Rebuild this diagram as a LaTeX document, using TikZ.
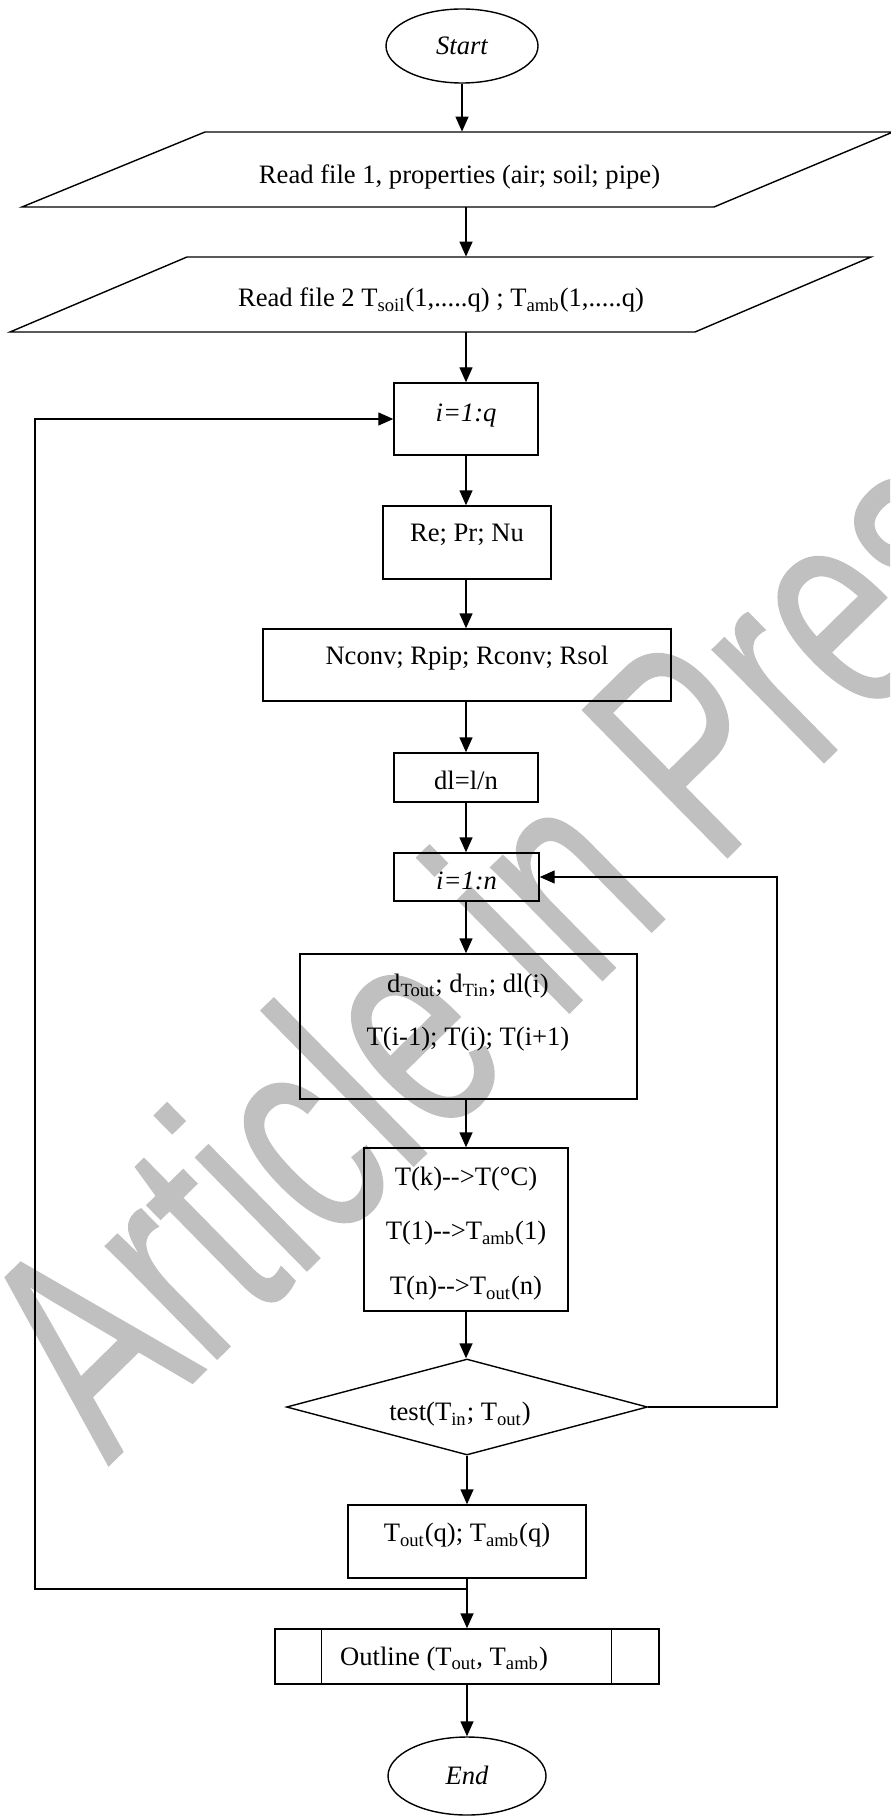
\documentclass[tikz,border=0pt]{standalone}
\usepackage{fontspec}
\setmainfont{Liberation Serif}
\newfontfamily\wmfont[FakeBold=0.6]{Liberation Sans}
\usetikzlibrary{shapes.geometric,arrows.meta}
\definecolor{wmgrey}{HTML}{C0C0C0}
\tikzset{
  fcbase/.style={inner sep=0pt, font=\fontsize{13.3}{16}\selectfont, text height=8.8pt, text depth=0pt},
  fcbox/.style={fcbase, draw, line width=0.7pt, rectangle},
  fcterm/.style={fcbase, draw, line width=0.7pt, ellipse},
  fcdec/.style={fcbase, draw, line width=0.7pt, diamond, aspect=3.76},
  fctxt/.style={fcbase},
  fcpar/.style={line width=0.7pt, line join=miter},
  fcarr/.style={line width=0.7pt, -{Triangle[length=7.5pt,width=6.5pt]}},
  fcloop/.style={line width=0.6pt, -{Triangle[length=7.5pt,width=6.5pt]}},
}
\begin{document}
\begin{tikzpicture}[x=0.5pt,y=-0.5pt]
\useasboundingbox (0,0) rectangle (890,1818);
% watermark
\begin{scope}
\clip (0,0) rectangle (890,1818);
\node[rotate=44.5, xscale=0.69, anchor=base west, inner sep=0pt, text=wmgrey, font=\wmfont\fontsize{150}{150}\selectfont] (wm) at (108,1466) {Article in Press};
\end{scope}

% nodes
\node[fcterm, minimum width=76pt, minimum height=37pt] (start) at (462,46) {\itshape Start};

\node[fctxt, minimum width=300pt, minimum height=37.5pt, text height=14.3pt] (p1) at (459.5,169.5) {Read file 1, properties (air; soil; pipe)};
\draw[fcpar] (205,132) -- (893,132) -- (714,207) -- (22,207) -- cycle;

\node[fctxt, minimum width=300pt, minimum height=37.5pt, text height=12.3pt] (p2) at (441,294.5) {Read file 2 T\textsubscript{soil}(1,.....q) ; T\textsubscript{amb}(1,.....q)};
\draw[fcpar] (187,257) -- (871,257) -- (695,332) -- (10,332) -- cycle;

\node[fcbox, minimum width=72pt, minimum height=36pt, text depth=6pt] (q) at (466,419) {\itshape i=1:q};
\node[fcbox, minimum width=84pt, minimum height=36.5pt, text depth=9.5pt] (re) at (467,542.5) {Re; Pr; Nu};
\node[fcbox, minimum width=204pt, minimum height=36pt, text depth=9pt] (nc) at (467,665) {Nconv; Rpip; Rconv; Rsol};
\node[fcbox, minimum width=72pt, minimum height=24.5pt, text height=12.3pt] (dl) at (466,777.5) {dl=l/n};
\node[fcbox, minimum width=72.5pt, minimum height=24pt, text height=12.8pt] (n) at (466.5,877) {\itshape i=1:n};

\node[fcbox, minimum width=168.5pt, minimum height=72.5pt] (dT) at (468.5,1026.5) {};
\node[fctxt] (dT1) at (468,983.5) {d\textsubscript{Tout}; d\textsubscript{Tin}; dl(i)};
\node[fctxt] (dT2) at (468,1037) {T(i-1); T(i); T(i+1)};

\node[fcbox, minimum width=102pt, minimum height=81.5pt] (tk) at (466,1229.5) {};
\node[fctxt] (tk1) at (466,1177) {T(k)-{}->T(°C)};
\node[fctxt] (tk2) at (466,1231) {T(1)-{}->T\textsubscript{amb}(1)};
\node[fctxt] (tk3) at (466,1286) {T(n)-{}->T\textsubscript{out}(n)};

\node[fcdec, minimum width=180.5pt, minimum height=48pt, text height=13.8pt] (dia) at (467,1407) {test(T\textsubscript{in}; T\textsubscript{out})\hspace*{7pt}};

\node[fcbox, minimum width=119pt, minimum height=36.5pt, text depth=8.5pt] (tout) at (467,1541.5) {T\textsubscript{out}(q); T\textsubscript{amb}(q)};

\node[fcbox, minimum width=192pt, minimum height=27.5pt] (out) at (467,1656.5) {Outline (T\textsubscript{out}, T\textsubscript{amb})\hspace*{23pt}};
\draw[fcpar] ([xshift=23.5pt]out.north west) -- ([xshift=23.5pt]out.south west);
\draw[fcpar] ([xshift=-24pt]out.north east) -- ([xshift=-24pt]out.south east);

\node[fcterm, minimum width=79pt, minimum height=39pt] (end) at (467,1776) {\itshape End};

% connectors
\draw[fcarr] (start.south) -- (start.south |- p1.north);
\draw[fcarr] (q.north |- p1.south) -- (q.north |- p2.north);
\draw[fcarr] (q.north |- p2.south) -- (q.north);
\draw[fcarr] (q.south) -- (q.south |- re.north);
\draw[fcarr] (q.south |- re.south) -- (q.south |- nc.north);
\draw[fcarr] (q.south |- nc.south) -- (dl.north);
\draw[fcarr] (dl.south) -- (dl.south |- n.north);
\draw[fcarr] (dl.south |- n.south) -- (dl.south |- dT.north);
\draw[fcarr] (dl.south |- dT.south) -- (dl.south |- tk.north);
\draw[fcarr] (tk.south) -- (tk.south |- dia.north);
\draw[fcarr] (dia.south) -- (tout.north);
\draw[fcarr] (tout.south) -- (out.north);
\draw[fcarr] (out.south) -- (end.north);

\coordinate (rl) at (777,0);
\draw[fcloop] (dia.east) -| (rl |- n.east) -- (n.east);
\coordinate (ll) at (35,1589);
\draw[fcloop] (tout.south |- ll) -- (ll) |- (q.west);
\end{tikzpicture}
\end{document}
